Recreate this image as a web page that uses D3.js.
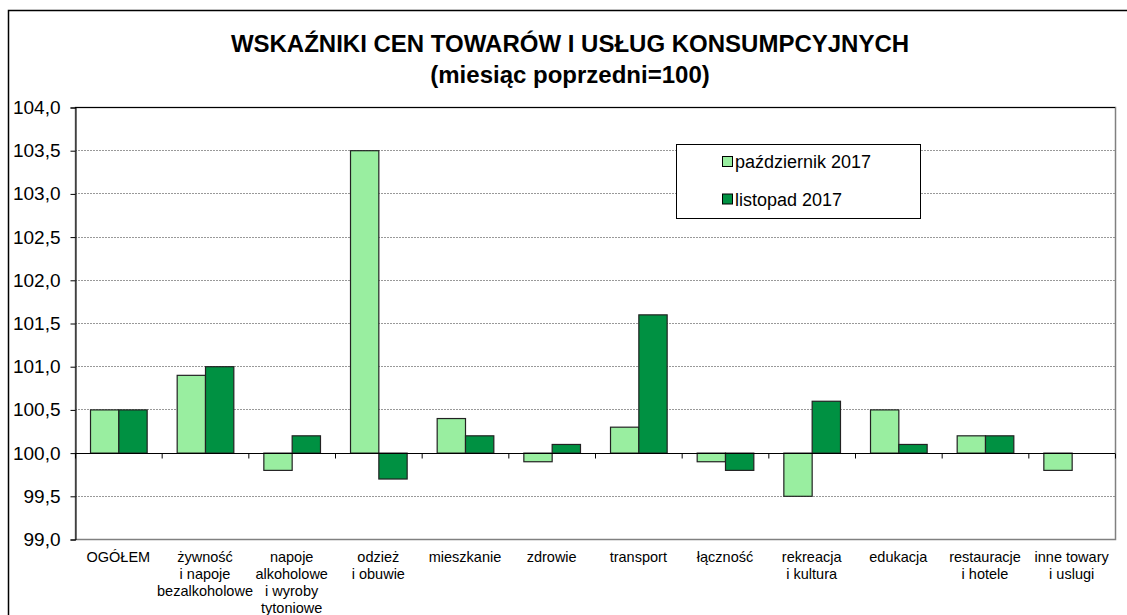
<!DOCTYPE html>
<html>
<head>
<meta charset="utf-8">
<script src="https://cdn.jsdelivr.net/npm/d3@7"></script>
<style>
  body { margin: 0; background: #fff; overflow: hidden; }
  text { font-family: Arial, "Liberation Sans", sans-serif; }
</style>
</head>
<body>
<script>
var categories = [
  ["OGÓŁEM"],
  ["żywność", "i napoje", "bezalkoholowe"],
  ["napoje", "alkoholowe", "i wyroby", "tytoniowe"],
  ["odzież", "i obuwie"],
  ["mieszkanie"],
  ["zdrowie"],
  ["transport"],
  ["łączność"],
  ["rekreacja", "i kultura"],
  ["edukacja"],
  ["restauracje", "i hotele"],
  ["inne towary", "i uslugi"]
];
var seriesNames = ["październik 2017", "listopad 2017"];
var october = [100.5, 100.9, 99.8, 103.5, 100.4, 99.9, 100.3, 99.9, 99.5, 100.5, 100.2, 99.8];
var november = [100.5, 101.0, 100.2, 99.7, 100.2, 100.1, 101.6, 99.8, 100.6, 100.1, 100.2, 100.0];
var yTicks = [99.0, 99.5, 100.0, 100.5, 101.0, 101.5, 102.0, 102.5, 103.0, 103.5, 104.0];
var colors = ["#99eea0", "#009142"];

var width = 1127, height = 615;
var pLeft = 75, pRight = 1115, pTop = 107, pBottom = 539;

var svg = d3.select("body").append("svg")
    .attr("width", width)
    .attr("height", height);

// outer frame
svg.append("rect")
    .attr("x", 8.5).attr("y", 10.5)
    .attr("width", 1130).attr("height", 620)
    .attr("fill", "none").attr("stroke", "#000").attr("stroke-width", 1.5);

svg.append("text")
    .attr("x", 570).attr("y", 52)
    .attr("text-anchor", "middle")
    .attr("font-size", 24).attr("font-weight", "bold")
    .text("WSKAŹNIKI CEN TOWARÓW I USŁUG KONSUMPCYJNYCH");
svg.append("text")
    .attr("x", 570).attr("y", 83)
    .attr("text-anchor", "middle")
    .attr("font-size", 24).attr("font-weight", "bold")
    .text("(miesiąc poprzedni=100)");

var x = d3.scaleBand()
    .domain(d3.range(categories.length))
    .range([pLeft, pRight])
    .paddingInner(0).paddingOuter(0);

var y = d3.scaleLinear().domain([99, 104]).range([pBottom, pTop]);

var inner = d3.scaleBand()
    .domain([0, 1])
    .range([0, x.bandwidth()])
    .paddingOuter(0.53).paddingInner(0);

// gridlines
svg.append("g").selectAll("line")
    .data(yTicks.filter(function(d) { return d != 100 && d != 104; }))
  .enter().append("line")
    .attr("x1", pLeft).attr("x2", pRight)
    .attr("y1", function(d) { return Math.round(y(d)) + 0.5; })
    .attr("y2", function(d) { return Math.round(y(d)) + 0.5; })
    .attr("stroke", "#999")
    .attr("stroke-dasharray", "2,1");

// plot border
svg.append("rect")
    .attr("x", pLeft + 0.5).attr("y", pTop + 0.5)
    .attr("width", pRight - pLeft).attr("height", pBottom - pTop)
    .attr("fill", "none").attr("stroke", "#808080").attr("stroke-width", 1.5);
svg.append("line")
    .attr("x1", pLeft).attr("x2", pRight)
    .attr("y1", pTop + 0.5).attr("y2", pTop + 0.5)
    .attr("stroke", "#000");

// y axis
var yAxis = d3.axisLeft(y)
    .tickValues(yTicks)
    .tickSize(5)
    .tickFormat(function(d) { return d3.format(".1f")(d).replace(".", ","); });
var ya = svg.append("g")
    .attr("transform", "translate(" + (pLeft + 0.5) + ",0.5)")
    .call(yAxis);
ya.select(".domain").attr("stroke", "#000");
ya.selectAll("text")
    .attr("font-size", 19).attr("fill", "#000")
    .attr("font-family", "Arial, 'Liberation Sans', sans-serif")
    .attr("x", -15);

// bars
var data = [];
categories.forEach(function(c, i) {
  [october[i], november[i]].forEach(function(v, s) {
    data.push({ cat: i, s: s, v: v });
  });
});

svg.append("g").selectAll("rect")
    .data(data.filter(function(d) { return d.v != 100; }))
  .enter().append("rect")
    .attr("x", function(d) { return x(d.cat) + inner(d.s) + 0.5; })
    .attr("width", inner.bandwidth())
    .attr("y", function(d) { return Math.min(y(d.v), y(100)) + 0.5; })
    .attr("height", function(d) { return Math.abs(y(d.v) - y(100)); })
    .attr("fill", function(d) { return colors[d.s]; })
    .attr("stroke", "#222")
    .attr("stroke-width", 1.2);

// category axis at 100
var xa = svg.append("g")
    .attr("transform", "translate(0," + (Math.round(y(100)) + 0.5) + ")");
xa.append("line")
    .attr("x1", pLeft).attr("x2", pRight)
    .attr("stroke", "#000").attr("stroke-width", 1.2);
xa.selectAll(".tk")
    .data(d3.range(categories.length + 1))
  .enter().append("line")
    .attr("class", "tk")
    .attr("x1", function(d) { return pLeft + d * x.step() + 0.5; })
    .attr("x2", function(d) { return pLeft + d * x.step() + 0.5; })
    .attr("y1", 0).attr("y2", 5)
    .attr("stroke", "#000");

// category labels, below the plot area
var labels = svg.append("g");
categories.forEach(function(lines, i) {
  var t = labels.append("text")
      .attr("text-anchor", "middle")
      .attr("font-size", 14.5);
  lines.forEach(function(l, j) {
    t.append("tspan")
        .attr("x", x(i) + x.bandwidth() / 2)
        .attr("y", 562 + j * 17)
        .text(l);
  });
});

// legend
var lg = svg.append("g");
lg.append("rect")
    .attr("x", 676.5).attr("y", 144.5)
    .attr("width", 244).attr("height", 74)
    .attr("fill", "#fff").attr("stroke", "#000");
seriesNames.forEach(function(n, i) {
  lg.append("rect")
      .attr("x", 722.5).attr("y", 156.5 + i * 37.5)
      .attr("width", 10).attr("height", 10)
      .attr("fill", colors[i]).attr("stroke", "#000");
  lg.append("text")
      .attr("x", 735).attr("y", 168 + i * 37.5)
      .attr("font-size", 18)
      .text(n);
});
</script>
</body>
</html>
